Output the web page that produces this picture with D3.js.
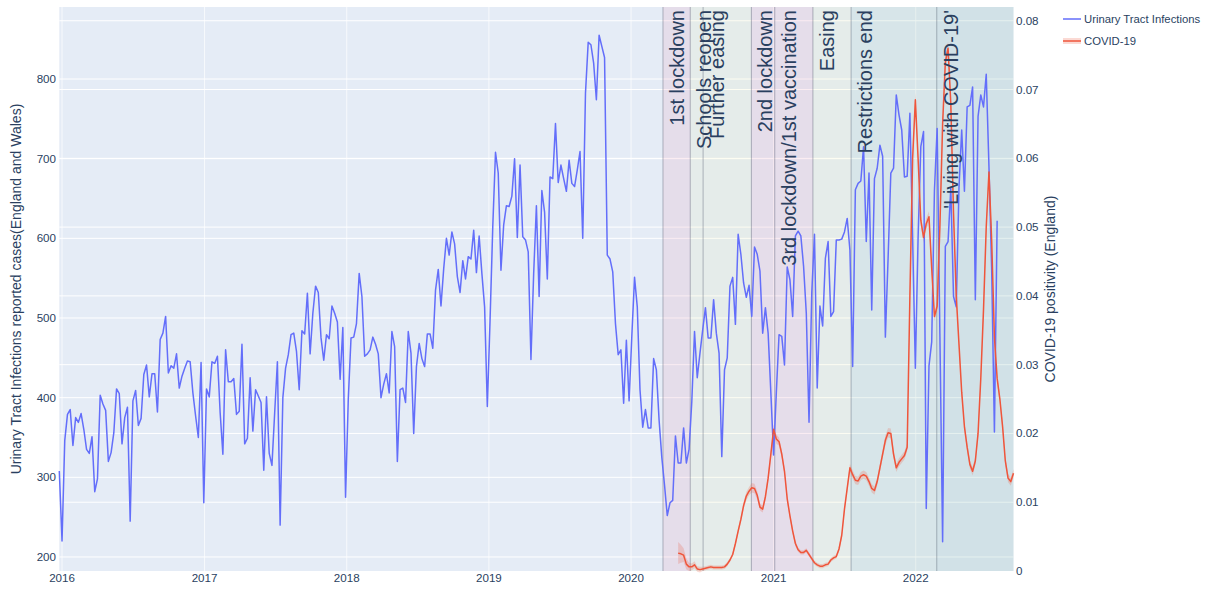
<!DOCTYPE html>
<html><head><meta charset="utf-8">
<script src="https://cdn.jsdelivr.net/npm/d3@7"></script>
<style>
html,body{margin:0;padding:0;background:#fff;}
svg text{font-family:"Liberation Sans",Arial,Helvetica,sans-serif;}
</style></head>
<body><svg id="chart" width="1209" height="590"></svg>
<script>
// ---------------- DATA ----------------
const utiStartDate = "2015-12-25";   // first weekly observation
const utiCases = [
308,220,346,379,385,340,375,369,380,360,335,330,351,282,298,403,392,384,320,331,
356,411,405,342,375,388,245,396,409,365,374,429,441,401,430,430,382,473,481,502,
431,440,437,455,412,427,437,446,445,406,377,350,444,268,411,401,445,443,452,381,
329,460,420,420,424,379,383,467,342,349,425,358,410,402,394,309,401,330,315,381,
445,240,400,437,454,479,481,458,410,484,480,531,455,506,540,532,475,447,479,474,
515,506,495,423,488,275,398,475,476,493,556,527,452,455,460,476,467,455,400,417,
430,406,483,464,320,410,412,394,483,456,355,439,468,449,439,480,480,462,535,561,
515,562,600,579,608,593,552,532,572,549,577,574,610,557,603,556,514,389,497,615,
708,682,560,617,641,640,653,700,601,692,602,598,583,448,556,641,527,660,633,549,
677,675,744,670,692,675,659,698,669,665,686,709,600,782,846,843,820,774,855,841,
827,579,574,558,493,454,460,393,472,396,477,551,514,410,363,385,362,362,449,435,
372,325,290,252,268,271,352,318,318,362,318,335,395,483,425,456,485,513,475,475,
523,481,456,326,435,450,540,551,492,605,580,544,526,541,502,589,580,559,481,513,
481,406,328,406,479,477,441,564,548,502,603,609,603,565,506,369,531,605,412,515,
490,575,596,502,508,598,598,599,608,625,585,439,661,669,672,715,596,682,510,675,
688,717,703,476,575,682,688,780,755,736,677,678,757,600,437,600,715,734,261,440,
470,660,738,480,219,590,596,663,527,514,663,736,659,765,767,790,523,753,780,765,
806,690,560,357,622];

const covidStartDate = "2020-05-01";  // first weekly positivity estimate
const covidPositivity = [
0.0026,0.0025,0.0023,0.0010,0.0006,0.0006,0.0009,0.0003,0.0002,0.0003,
0.0004,0.0005,0.0006,0.0005,0.0005,0.0005,0.0005,0.0006,0.0010,0.0016,
0.0024,0.0040,0.0058,0.0075,0.0095,0.0109,0.0116,0.0121,0.0120,0.0110,
0.0093,0.0090,0.0108,0.0135,0.0170,0.0206,0.0192,0.0188,0.0170,0.0145,
0.0105,0.0080,0.0058,0.0040,0.0031,0.0027,0.0027,0.0030,0.0024,0.0018,
0.0012,0.0009,0.0007,0.0007,0.0009,0.0010,0.0016,0.0019,0.0021,0.0032,
0.0052,0.0090,0.0120,0.0150,0.0140,0.0132,0.0131,0.0138,0.0140,0.0138,
0.0130,0.0120,0.0117,0.0130,0.0150,0.0170,0.0190,0.0201,0.0200,0.0170,
0.0150,0.0158,0.0163,0.0168,0.0180,0.0400,0.0600,0.0685,0.0600,0.0510,
0.0485,0.0505,0.0515,0.0440,0.0370,0.0385,0.0500,0.0650,0.0740,0.0760,
0.0680,0.0520,0.0400,0.0330,0.0260,0.0210,0.0180,0.0155,0.0145,0.0160,
0.0200,0.0280,0.0380,0.0500,0.0580,0.0480,0.0340,0.0280,0.0250,0.0210,
0.0160,0.0135,0.0130,0.0142];
const covidHalfCI = [
0.0016,0.0013,0.0010,0.0008,0.0006,0.0005,0.0005,0.0004,0.0004,0.0003,
0.0003,0.0003,0.0003,0.0003,0.0003,0.0003,0.0003,0.0003,0.0003,0.0003,
0.0003,0.0004,0.0004,0.0005,0.0005,0.0006,0.0006,0.0007,0.0007,0.0006,
0.0005,0.0005,0.0005,0.0006,0.0006,0.0007,0.0007,0.0006,0.0006,0.0005,
0.0005,0.0004,0.0004,0.0004,0.0003,0.0003,0.0003,0.0003,0.0003,0.0003,
0.0003,0.0003,0.0003,0.0003,0.0003,0.0003,0.0003,0.0003,0.0003,0.0004,
0.0004,0.0005,0.0005,0.0006,0.0006,0.0006,0.0006,0.0006,0.0006,0.0006,
0.0006,0.0006,0.0006,0.0006,0.0006,0.0006,0.0007,0.0007,0.0007,0.0006,
0.0006,0.0006,0.0006,0.0006,0.0006,0.0008,0.0009,0.0010,0.0009,0.0008,
0.0008,0.0008,0.0008,0.0007,0.0007,0.0007,0.0008,0.0009,0.0010,0.0010,
0.0009,0.0008,0.0007,0.0007,0.0006,0.0006,0.0006,0.0006,0.0006,0.0006,
0.0006,0.0007,0.0007,0.0008,0.0008,0.0008,0.0007,0.0007,0.0006,0.0006,
0.0006,0.0006,0.0006,0.0006];

const eventDates  = ["2020-03-23","2020-06-01","2020-07-04","2020-11-05","2021-01-04","2021-04-12","2021-07-19","2022-02-24"];
const eventLabels = ["1st lockdown","Schools reopen","Further easing","2nd lockdown","3rd lockdown/1st vaccination","Easing","Restrictions end","'Living with COVID-19'"];
const eventKinds  = ["lockdown","easing","easing","lockdown","lockdown","easing","open","living"];

const leftTicks  = [200,300,400,500,600,700,800];
const rightTicks = [0,0.01,0.02,0.03,0.04,0.05,0.06,0.07,0.08];
const yearTicks  = ["2016","2017","2018","2019","2020","2021","2022"];
const seriesNames = ["Urinary Tract Infections","COVID-19"];

// ---------------- CHART ----------------
const svg = d3.select("#chart");
const X0 = 59.3, X1 = 1013.5, Y0 = 7, Y1 = 571;
const parse = d3.utcParse("%Y-%m-%d");
const utiStart = parse(utiStartDate), covStart = parse(covidStartDate);
const uti = utiCases.map((v,i)=>({d:d3.utcDay.offset(utiStart,7*i), v}));
const cov = covidPositivity.map((v,i)=>({d:d3.utcDay.offset(covStart,7*i), v, h:covidHalfCI[i]}));

const x = d3.scaleUtc().domain([uti[0].d, cov[cov.length-1].d]).range([X0,X1]);
const yL = d3.scaleLinear().domain([182.4, 890.4]).range([Y1,Y0]);
const yR = d3.scaleLinear().domain([0, 0.082]).range([Y1,Y0]);

const fg = "#2a3f5f";
svg.append("rect").attr("x",X0).attr("y",Y0).attr("width",X1-X0).attr("height",Y1-Y0).attr("fill","#E5ECF6");

const grid = svg.append("g").attr("stroke","#fff").attr("stroke-width",1);
yearTicks.forEach(t=>{const xx=x(parse(t+"-01-01")); grid.append("line").attr("x1",xx).attr("x2",xx).attr("y1",Y0).attr("y2",Y1).attr("stroke-opacity",0.7);});
leftTicks.forEach(t=>grid.append("line").attr("x1",X0).attr("x2",X1).attr("y1",yL(t)).attr("y2",yL(t)));
rightTicks.filter(t=>t>0).forEach(t=>grid.append("line").attr("x1",X0).attr("x2",X1).attr("y1",yR(t)).attr("y2",yR(t)));

// shaded periods
const fills = {lockdown:"rgba(229,143,173,0.16)", easing:"rgba(240,236,130,0.10)", open:"rgba(150,196,170,0.17)", living:"rgba(120,180,170,0.19)"};
const evX = eventDates.map(d=>x(parse(d)));
evX.forEach((ex,i)=>{
  const nx = i<evX.length-1 ? evX[i+1] : X1;
  svg.append("rect").attr("x",ex).attr("y",Y0).attr("width",nx-ex).attr("height",Y1-Y0).attr("fill",fills[eventKinds[i]]);
});
evX.forEach(ex=>svg.append("line").attr("x1",ex).attr("x2",ex).attr("y1",Y0).attr("y2",Y1).attr("stroke","rgba(70,80,100,0.38)").attr("stroke-width",1));

// traces
const plot = svg.append("g");
plot.append("path").datum(cov)
  .attr("d", d3.area().x(d=>x(d.d)).y0(d=>yR(d.v-d.h)).y1(d=>yR(d.v+d.h)))
  .attr("fill","rgba(239,85,59,0.22)");
plot.append("path").datum(uti)
  .attr("d", d3.line().x(d=>x(d.d)).y(d=>yL(d.v)))
  .attr("fill","none").attr("stroke","#636EFA").attr("stroke-width",1.5).attr("stroke-linejoin","round");
plot.append("path").datum(cov)
  .attr("d", d3.line().x(d=>x(d.d)).y(d=>yR(d.v)))
  .attr("fill","none").attr("stroke","#EF553B").attr("stroke-width",1.5).attr("stroke-linejoin","round");

// annotations
evX.forEach((ex,i)=>{
  svg.append("text").attr("transform",`translate(${ex+21},${Y0+3}) rotate(-90)`)
    .attr("text-anchor","end").attr("font-size",20).attr("fill",fg).text(eventLabels[i]);
});

// axes
const ax = svg.append("g").attr("font-size",11.6).attr("fill",fg);
leftTicks.forEach(t=>ax.append("text").attr("x",56).attr("y",yL(t)).attr("dy","0.35em").attr("text-anchor","end").text(t));
rightTicks.forEach(t=>ax.append("text").attr("x",1016).attr("y",yR(t)).attr("dy","0.35em").attr("text-anchor","start").text(t===0?"0":d3.format(".2f")(t)));
yearTicks.forEach(t=>ax.append("text").attr("x",x(parse(t+"-01-01"))).attr("y",582).attr("text-anchor","middle").text(t));

svg.append("text").attr("transform",`translate(21,${(Y0+Y1)/2}) rotate(-90)`).attr("text-anchor","middle")
  .attr("font-size",14).attr("fill",fg).text("Urinary Tract Infections reported cases(England and Wales)");
svg.append("text").attr("transform",`translate(1055,${(Y0+Y1)/2}) rotate(-90)`).attr("text-anchor","middle")
  .attr("font-size",14).attr("fill",fg).text("COVID-19 positivity (England)");

// legend
const lg = svg.append("g").attr("transform","translate(1063,19)");
lg.append("line").attr("x1",0).attr("x2",18).attr("y1",0).attr("y2",0).attr("stroke","#636EFA").attr("stroke-width",1.5);
lg.append("text").attr("x",21).attr("y",0).attr("dy","0.35em").attr("font-size",11.3).attr("fill",fg).text(seriesNames[0]);
lg.append("line").attr("x1",0).attr("x2",18).attr("y1",22).attr("y2",22).attr("stroke","rgba(239,85,59,0.22)").attr("stroke-width",6);
lg.append("line").attr("x1",0).attr("x2",18).attr("y1",22).attr("y2",22).attr("stroke","#EF553B").attr("stroke-width",1.5);
lg.append("text").attr("x",21).attr("y",22).attr("dy","0.35em").attr("font-size",11.3).attr("fill",fg).text(seriesNames[1]);
</script></body></html>
